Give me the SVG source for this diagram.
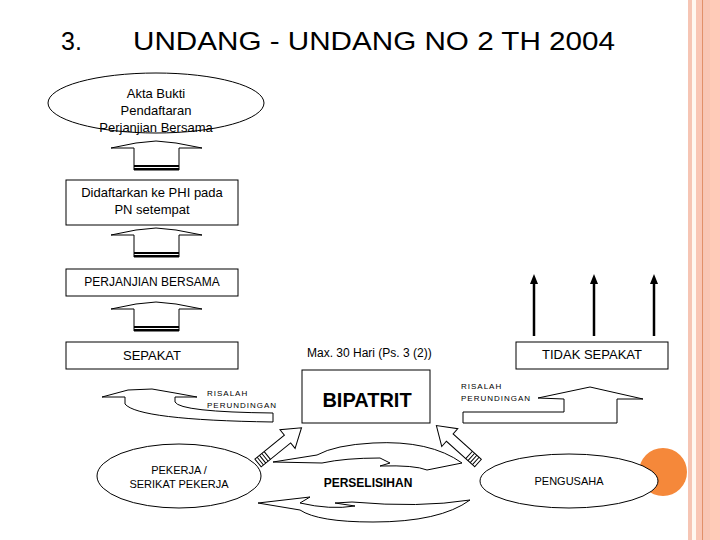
<svg xmlns="http://www.w3.org/2000/svg" width="720" height="540" viewBox="0 0 720 540">
<style>
text{font-family:"Liberation Sans",Arial,sans-serif;fill:#000}
.s{fill:#fff;stroke:#000;stroke-width:1}
.t{font-size:13px;text-anchor:middle}
.r{font-size:8px;letter-spacing:1px}
</style>
<defs>
<g id="up">
<path class="s" d="M-45,0 L-20,-5 L0,-7 L20,-5 L46,0 L23,0 L23,22 L-22,22 L-22,0 Z"/>
<line x1="-22" y1="18" x2="23" y2="18" stroke="#000" stroke-width="2"/>
<line x1="-22" y1="21" x2="23" y2="21" stroke="#000" stroke-width="2"/>
</g>
<g id="diag">
<path class="s" d="M0,-5 L38,-5 L38,-12 L56,0 L38,12 L38,5 L0,5 Z"/>
<path d="M3,-5 V5 M6,-5 V5 M9,-5 V5 M12,-5 V5" stroke="#000" stroke-width="1"/>
</g>
<marker id="ah" viewBox="0 0 10 10" refX="5" refY="5" markerWidth="4" markerHeight="4" orient="auto"><path d="M0,1 L10,5 L0,9 Z"/></marker>
</defs>
<rect x="688" y="0" width="4" height="540" fill="#f6c5b4"/>
<rect x="692" y="0" width="4" height="540" fill="#fff7f0"/>
<rect x="696" y="0" width="6" height="540" fill="#f9c6b5"/>
<rect x="702" y="0" width="1.5" height="540" fill="#e2906a"/>
<rect x="703.5" y="0" width="7" height="540" fill="#f9c6b5"/>
<rect x="710" y="0" width="10" height="540" fill="#ffcbb8"/>
<text x="61" y="50" font-size="25">3.</text>
<text x="133" y="50" font-size="26" textLength="482" lengthAdjust="spacingAndGlyphs">UNDANG - UNDANG  NO 2 TH 2004</text>
<g id="connectors">
<use href="#up" x="156" y="148"/>
<use href="#up" x="156" y="235"/>
<use href="#up" x="156" y="309"/>
<g stroke="#000" stroke-width="2.5" marker-end="url(#ah)">
<line x1="534" y1="336" x2="534" y2="279"/>
<line x1="594" y1="336" x2="594" y2="279"/>
<line x1="654" y1="336" x2="654" y2="279"/>
</g>
<path class="s" d="M102,397 L128,390 L152,389 L175,393 L197,397 L175,397 L175,402 Q180,412 273,413 L273,422 Q138,420 125,404 L125,397 Z"/>
<path class="s" d="M538,398 L590,387 L643,399 L617,399 L617,423 L463,423 L463,412 L564,412 L564,399 Z"/>
<use href="#diag" transform="translate(258,463) rotate(-39)"/>
<use href="#diag" transform="translate(478,463) rotate(-138)"/>
<path class="s" d="M462,463 Q430,440 373,443 Q335,445 317,455 L273,462 L322,463 Q345,458 380,458 L390,463 L380,466 Q415,465 427,470 Z"/>
<path class="s" d="M258,503 L310,497 L300,503 Q330,510 355,506 L335,503 L352,502 Q420,508 470,500 Q440,522 373,522 Q318,522 300,510 Z"/>
</g>
<g id="akta"><ellipse class="s" cx="156" cy="103" rx="108" ry="30"/>
<text class="t" x="156" y="98">Akta Bukti</text><text class="t" x="156" y="115">Pendaftaran</text><text class="t" x="156" y="132">Perjanjian Bersama</text></g>
<g id="didaftarkan"><rect class="s" x="66" y="180" width="172" height="45"/>
<text class="t" x="152" y="197">Didaftarkan ke PHI pada</text><text class="t" x="152" y="214">PN setempat</text></g>
<g id="pb"><rect class="s" x="66" y="269" width="172" height="27"/>
<text x="152" y="286" font-size="12" text-anchor="middle">PERJANJIAN BERSAMA</text></g>
<g id="sepakat"><rect class="s" x="66" y="342" width="172" height="27"/>
<text class="t" x="152" y="360">SEPAKAT</text></g>
<text x="307" y="357" font-size="12">Max. 30 Hari (Ps. 3 (2))</text>
<g id="bipatrit"><rect class="s" x="302" y="370" width="128" height="53"/>
<text x="367" y="407" font-size="20" font-weight="bold" text-anchor="middle">BIPATRIT</text></g>
<g id="tidak"><rect class="s" x="516" y="342" width="152" height="27"/>
<text class="t" x="592" y="359">TIDAK SEPAKAT</text></g>
<text class="r" x="207" y="396">RISALAH</text><text class="r" x="207" y="408">PERUNDINGAN</text>
<text class="r" x="461" y="389">RISALAH</text><text class="r" x="461" y="401">PERUNDINGAN</text>
<g id="pekerja"><ellipse class="s" cx="179" cy="476" rx="82" ry="32"/>
<text x="179" y="474" font-size="11" text-anchor="middle">PEKERJA /</text><text x="179" y="488" font-size="11" text-anchor="middle">SERIKAT PEKERJA</text></g>
<text x="368" y="487" font-size="12" font-weight="bold" text-anchor="middle">PERSELISIHAN</text>
<circle cx="663" cy="472" r="24" fill="#f5883a"/>
<g id="pengusaha"><ellipse class="s" cx="569" cy="481" rx="89" ry="27"/>
<text x="569" y="485" font-size="11" text-anchor="middle">PENGUSAHA</text></g>
</svg>
